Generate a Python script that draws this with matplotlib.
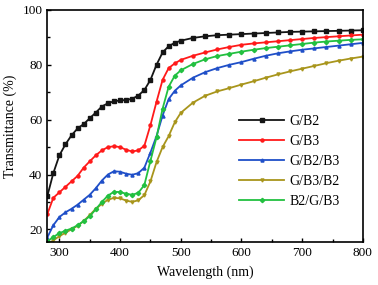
import matplotlib
matplotlib.use("Agg")
import matplotlib.pyplot as plt
from matplotlib.ticker import MultipleLocator

# wavelength grid (nm)
wl = [280, 290, 300, 310, 320, 330, 340, 350, 360, 370, 380, 390, 400, 410, 420,
      430, 440, 450, 460, 470, 480, 490, 500, 520, 540, 560, 580, 600, 620, 640,
      660, 680, 700, 720, 740, 760, 780, 800]

g_b2 = [32, 40.5, 47, 51, 54.3, 56.8, 58.4, 60.5, 62.6, 64.8, 66, 66.7, 67, 67.2, 67.6,
        68.8, 70.8, 74.5, 80, 84.5, 86.8, 88, 88.8, 89.8, 90.4, 90.8, 91, 91.2, 91.4, 91.6,
        91.8, 92, 92.1, 92.2, 92.3, 92.4, 92.5, 92.6]
g_b3 = [25.5, 31.5, 33.5, 35.5, 37.5, 39.5, 42.5, 44.8, 47, 48.8, 50, 50.3, 50, 49, 48.4,
        48.8, 50.5, 58, 66.5, 74.5, 78.8, 80.5, 81.8, 83.3, 84.5, 85.6, 86.5, 87.3, 87.8, 88.2,
        88.6, 89, 89.4, 89.8, 90.1, 90.4, 90.7, 91]
g_b2_b3 = [17, 21.5, 24.5, 26.2, 27.5, 29, 30.8, 32.6, 35, 37.8, 40, 41.2, 41, 40.3, 39.9,
           40.5, 42.5, 48, 54, 61.5, 67.5, 70.5, 72.5, 75.3, 77.3, 78.8, 80, 81, 82.2, 83.3,
           84.2, 84.9, 85.5, 86, 86.5, 87, 87.5, 88]
g_b3_b2 = [14.5, 16, 17.5, 18.8, 20, 21.3, 23, 25.2, 27.5, 29.3, 30.8, 31.5, 31.3, 30.5, 30,
           30.6, 32.5, 37.5, 44.5, 50, 54, 59, 62.5, 66.2, 68.7, 70.3, 71.5, 72.8, 74, 75.3,
           76.5, 77.6, 78.6, 79.6, 80.6, 81.5, 82.3, 83]
b2_g_b3 = [15.6, 17.2, 18.6, 19.5, 20.3, 21.5, 23, 24.8, 27.3, 30, 32.3, 33.7, 33.6, 33, 32.6,
           33.3, 36.2, 45, 53.5, 64, 72, 76, 78, 80.3, 82, 83.2, 84, 84.8, 85.5, 86.1,
           86.6, 87.1, 87.6, 88.1, 88.5, 88.8, 89.1, 89.3]

labels = ["G/B2", "G/B3", "G/B2/B3", "G/B3/B2", "B2/G/B3"]
series = [g_b2, g_b3, g_b2_b3, g_b3_b2, b2_g_b3]
colors = ["#151515", "#ff1a1a", "#1f4fc8", "#a8951c", "#22c040"]
markers = ["s", "o", "^", "v", "D"]

plt.rcParams["font.family"] = "Liberation Serif"

fig = plt.figure(figsize=(3.78, 2.85), dpi=100)
ax = fig.add_axes([0.125, 0.151, 0.835, 0.814])

for y, lab, c, m in zip(series, labels, colors, markers):
    ax.plot(wl, y, color=c, marker=m, ms=2.2, lw=1.3, label=lab)

ax.set_xlim(280, 800)
ax.set_ylim(15.4, 100)
ax.xaxis.set_major_locator(MultipleLocator(100))
ax.xaxis.set_minor_locator(MultipleLocator(50))
ax.yaxis.set_major_locator(MultipleLocator(20))
ax.yaxis.set_minor_locator(MultipleLocator(10))
ax.tick_params(which="both", direction="in", labelsize=9.5)
ax.tick_params(which="major", length=3, width=1)
ax.tick_params(which="minor", length=2, width=1)
for s in ax.spines.values():
    s.set_linewidth(1.2)

ax.set_xlabel("Wavelength (nm)", fontsize=10, labelpad=5)
ax.set_ylabel("Transmittance (%)", fontsize=10, labelpad=4)

ax.legend(loc="upper left", bbox_to_anchor=(0.615, 0.62), bbox_transform=fig.transFigure,
          frameon=False, fontsize=10, handlelength=3.2, handletextpad=0.4,
          labelspacing=0.5, borderpad=0)

fig.savefig("out.png", dpi=100)
